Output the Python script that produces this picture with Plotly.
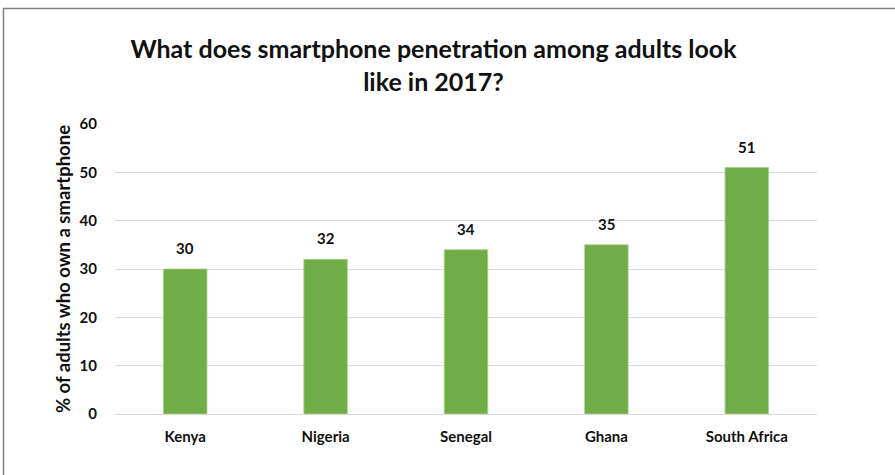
import plotly.graph_objects as go

countries = ["Kenya", "Nigeria", "Senegal", "Ghana", "South Africa"]
share = [30, 32, 34, 35, 51]
y_ticks = [0, 10, 20, 30, 40, 50, 60]

FONT = "Lato"
TXT = "#111111"

fig = go.Figure()
fig.add_trace(go.Bar(
    x=countries, y=share,
    marker=dict(color="#70AD47", line=dict(color="#A9D18E", width=0.8)),
    width=0.31,
    hoverinfo="x+y",
))

for c, v in zip(countries, share):
    fig.add_annotation(x=c, y=v, text=str(v), showarrow=False,
                       yanchor="bottom", yshift=10,
                       font=dict(family=FONT, size=15, color=TXT, weight="bold"))

fig.update_layout(
    width=895, height=475,
    margin=dict(l=115, r=78, t=124, b=61),
    paper_bgcolor="white", plot_bgcolor="white",
    showlegend=False,
    title=dict(
        text="What does smartphone penetration among adults look<br>like in 2017?",
        x=433.5 / 895, xanchor="center", y=1 - 58 / 475, yanchor="top",
        font=dict(family=FONT, size=25, color=TXT, weight="bold"),
    ),
    font=dict(family=FONT, color=TXT),
    xaxis=dict(
        showgrid=False, showline=True, linecolor="#d9d9d9", linewidth=1,
        ticks="outside", ticklen=9, tickcolor="rgba(0,0,0,0)",
        tickfont=dict(family=FONT, size=15, color=TXT, weight="bold"),
    ),
    yaxis=dict(
        range=[0, 60], tickvals=y_ticks,
        showgrid=True, gridcolor="#d9d9d9", gridwidth=1,
        zeroline=False, showline=False,
        ticks="outside", ticklen=14, tickcolor="rgba(0,0,0,0)",
        tickfont=dict(family=FONT, size=15, color=TXT, weight="bold"),
        title=dict(text="% of adults who own a smartphone",
                   font=dict(family=FONT, size=18.5, color=TXT, weight="bold"), standoff=4),
    ),
    shapes=[dict(type="rect", xref="paper", yref="paper",
                 x0=(3.5 - 115) / 702, x1=1.3, y0=-0.4, y1=(414 - 8.5) / 290,
                 line=dict(color="#808080", width=1.5), fillcolor="rgba(0,0,0,0)",
                 layer="below")],
)

fig.write_html("out.html")
